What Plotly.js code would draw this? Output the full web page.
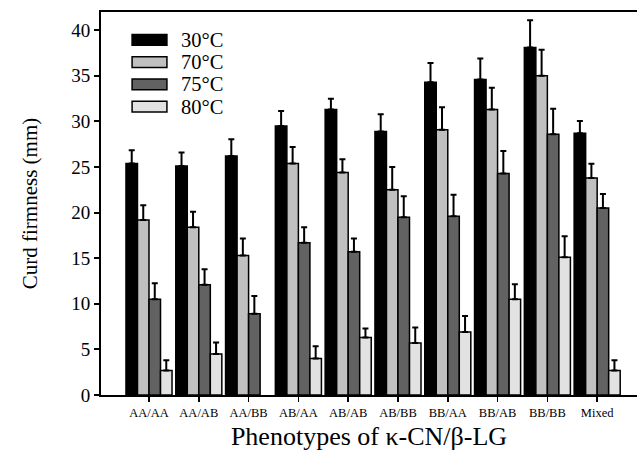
<!DOCTYPE html>
<html>
<head>
<meta charset="utf-8">
<script src="https://cdn.plot.ly/plotly-3.0.1.min.js"></script>
<style>html,body{margin:0;padding:0;background:#fff;}#chart{width:637px;height:461px;}</style>
</head>
<body>
<div id="chart"></div>
<script>
const categories = ["AA/AA","AA/AB","AA/BB","AB/AA","AB/AB","AB/BB","BB/AA","BB/AB","BB/BB","Mixed"];
const seriesNames = ["30°C","70°C","75°C","80°C"];
const v30 = [25.4, 25.1, 26.2, 29.5, 31.3, 28.9, 34.3, 34.6, 38.1, 28.7];
const e30 = [1.45, 1.5, 1.85, 1.65, 1.2, 1.9, 2.1, 2.3, 3.0, 1.35];
const v70 = [19.2, 18.4, 15.3, 25.4, 24.4, 22.5, 29.1, 31.3, 35.0, 23.8];
const e70 = [1.6, 1.7, 1.85, 1.8, 1.45, 2.5, 2.45, 2.4, 2.85, 1.55];
const v75 = [10.5, 12.1, 8.9, 16.7, 15.7, 19.5, 19.6, 24.3, 28.6, 20.5];
const e75 = [1.75, 1.7, 1.95, 1.7, 1.45, 2.3, 2.35, 2.45, 2.8, 1.55];
const v80 = [2.7, 4.5, null, 4.0, 6.3, 5.7, 6.9, 10.5, 15.1, 2.7];
const e80 = [1.1, 1.25, null, 1.35, 1.0, 1.7, 1.75, 1.65, 2.3, 1.1];

const colors = ["#000000", "#c0c0c0", "#626262", "#e2e2e2"];
const values = [v30, v70, v75, v80];
const errors = [e30, e70, e75, e80];
const serif = "Liberation Serif, Times New Roman, serif";

const traces = values.map((vals, i) => ({
  type: "bar",
  name: seriesNames[i],
  x: categories,
  y: vals,
  marker: {color: colors[i], line: {color: "#000", width: 1.5}},
  error_y: {
    type: "data", symmetric: false,
    array: errors[i], arrayminus: errors[i].map(() => 0),
    color: "#000", thickness: 2, width: 3
  },
  showlegend: false,
  hoverinfo: "skip"
}));

// legend drawn as shapes + text
const legX0 = 0.058, legX1 = 0.123, legTextX = 0.148;
const legY = [0.927, 0.869, 0.811, 0.753];
const swH = 0.014;
const shapes = seriesNames.map((n, i) => ({
  type: "rect", xref: "paper", yref: "paper",
  x0: legX0, x1: legX1, y0: legY[i] - swH, y1: legY[i] + swH,
  fillcolor: colors[i], line: {color: "#000", width: 1.5}
}));
const annotations = seriesNames.map((n, i) => ({
  xref: "paper", yref: "paper", x: legTextX, y: legY[i],
  xanchor: "left", yanchor: "middle", showarrow: false,
  borderpad: 0,
  text: n, font: {family: serif, size: 20.5, color: "#000"}
}));

const layout = {
  width: 637, height: 461,
  margin: {l: 101, r: 0, t: 12, b: 66},
  paper_bgcolor: "#fff", plot_bgcolor: "#fff",
  font: {family: serif, color: "#000"},
  barmode: "group", bargap: 0.075, bargroupgap: 0,
  showlegend: false,
  xaxis: {
    range: [-0.964, 9.80],
    showgrid: false, zeroline: false,
    showline: true, linecolor: "#000", linewidth: 2, mirror: true,
    ticks: "outside", ticklen: 5, tickwidth: 1.5, tickcolor: "#000",
    tickfont: {size: 12.5, color: "#000"},
    title: {text: "Phenotypes of κ-CN/β-LG", font: {size: 26, color: "#000"}, standoff: 8}
  },
  yaxis: {
    range: [0, 42],
    tickvals: [0,5,10,15,20,25,30,35,40],
    showgrid: false, zeroline: false,
    showline: true, linecolor: "#000", linewidth: 2,
    ticks: "outside", ticklen: 5, tickwidth: 2, tickcolor: "#000",
    tickfont: {size: 19, color: "#000"},
    title: {text: "Curd firmness (mm)", font: {size: 21, color: "#000"}, standoff: 28}
  },
  shapes: shapes,
  annotations: annotations
};

Plotly.newPlot("chart", traces, layout, {displayModeBar: false, staticPlot: true});
</script>
</body>
</html>
